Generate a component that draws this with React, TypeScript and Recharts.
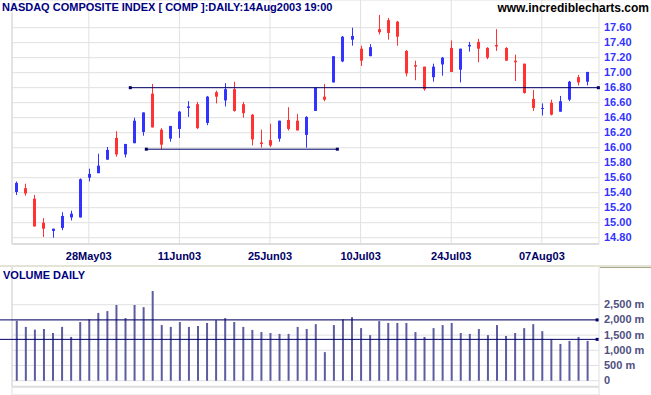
import {
  ComposedChart,
  Bar,
  XAxis,
  YAxis,
  CartesianGrid,
  ReferenceLine,
  ReferenceDot,
} from "recharts";

// NASDAQ Composite daily, 15 May 2003 - 14 Aug 2003 (index / 100)
const tradingDays = [
  "15May", "16May", "19May", "20May", "21May", "22May", "23May", "27May", "28May", "29May", "30May",
  "02Jun", "03Jun", "04Jun", "05Jun", "06Jun", "09Jun", "10Jun", "11Jun", "12Jun", "13Jun",
  "16Jun", "17Jun", "18Jun", "19Jun", "20Jun", "23Jun", "24Jun", "25Jun", "26Jun", "27Jun", "30Jun",
  "01Jul", "02Jul", "03Jul", "07Jul", "08Jul", "09Jul", "10Jul", "11Jul", "14Jul", "15Jul", "16Jul",
  "17Jul", "18Jul", "21Jul", "22Jul", "23Jul", "24Jul", "25Jul", "28Jul", "29Jul", "30Jul", "31Jul",
  "01Aug", "04Aug", "05Aug", "06Aug", "07Aug", "08Aug", "11Aug", "12Aug", "13Aug", "14Aug",
];

const opens = [
  15.41, 15.46, 15.32, 15.0, 14.89, 14.93, 15.07, 15.07, 15.6, 15.66, 15.84, 16.13, 15.91, 16.06, 16.21, 16.72,
  16.24, 16.12, 16.25, 16.53, 16.58, 16.33, 16.74, 16.63, 16.78, 16.58, 16.44, 16.07, 16.1, 16.12, 16.37, 16.36,
  16.17, 16.49, 16.68, 16.87, 17.15, 17.44, 17.32, 17.22, 17.58, 17.7, 17.68, 17.29, 17.1, 17.08, 16.94, 17.11,
  17.33, 17.04, 17.35, 17.41, 17.33, 17.37, 17.33, 17.16, 17.12, 16.65, 16.52, 16.6, 16.48, 16.64, 16.94, 16.88,
];
const highs = [
  15.55, 15.52, 15.37, 15.06, 14.92, 15.14, 15.16, 15.59, 15.72, 15.92, 16.01, 16.22, 16.05, 16.4, 16.47, 16.85,
  16.26, 16.29, 16.49, 16.62, 16.61, 16.69, 16.76, 16.86, 16.88, 16.61, 16.45, 16.24, 16.32, 16.36, 16.54, 16.45,
  16.42, 16.8, 16.85, 17.22, 17.49, 17.6, 17.36, 17.38, 17.77, 17.73, 17.69, 17.3, 17.16, 17.08, 17.12, 17.21,
  17.43, 17.32, 17.41, 17.45, 17.34, 17.58, 17.34, 17.24, 17.12, 16.77, 16.59, 16.64, 16.69, 16.89, 16.97, 17.01,
];
const lows = [
  15.37, 15.36, 14.95, 14.81, 14.8, 14.9, 15.03, 15.07, 15.55, 15.66, 15.84, 15.88, 15.87, 16.06, 16.16, 16.27,
  15.98, 16.08, 16.13, 16.41, 16.25, 16.3, 16.59, 16.55, 16.48, 16.4, 16.03, 16.0, 16.01, 16.08, 16.23, 16.23,
  16.0, 16.49, 16.62, 16.87, 17.14, 17.36, 17.09, 17.22, 17.51, 17.44, 17.36, 16.95, 16.9, 16.76, 16.88, 16.96,
  17.01, 16.87, 17.28, 17.14, 17.18, 17.29, 17.16, 16.89, 16.72, 16.49, 16.43, 16.43, 16.48, 16.62, 16.83, 16.83,
];
const closes = [
  15.53, 15.39, 14.95, 14.92, 14.92, 15.09, 15.12, 15.58, 15.65, 15.76, 15.97, 15.91, 16.05, 16.36, 16.47, 16.27,
  16.04, 16.29, 16.48, 16.55, 16.26, 16.68, 16.68, 16.78, 16.49, 16.46, 16.11, 16.05, 16.03, 16.36, 16.25, 16.23,
  16.41, 16.8, 16.64, 17.22, 17.48, 17.49, 17.16, 17.34, 17.54, 17.53, 17.48, 16.99, 17.08, 16.78, 17.08, 17.2,
  17.01, 17.32, 17.37, 17.32, 17.2, 17.35, 17.16, 17.14, 16.73, 16.53, 16.53, 16.44, 16.62, 16.88, 16.87, 17.01,
];
// volume in millions
const volumes = [
  1970, 1770, 1680, 1700, 1570, 1770, 1440, 1930, 2020, 2230, 2290, 2490, 2060, 2490, 2420, 2950,
  1830, 1770, 1930, 1770, 1800, 1900, 1990, 2060, 1930, 1770, 1670, 1600, 1570, 1540, 1540, 1770,
  1700, 1860, 940, 1830, 2020, 2090, 1730, 1500, 1960, 1900, 1900, 1900, 1600, 1440, 1730, 1830,
  1900, 1570, 1540, 1700, 1500, 1830, 1470, 1570, 1730, 1860, 1630, 1370, 1210, 1310, 1440, 1310,
];

const dateTicks = [8, 18, 28, 38, 48, 58];
const dateLabels = ["28May03", "11Jun03", "25Jun03", "10Jul03", "24Jul03", "07Aug03"];
const priceTicks = [14.8, 15.0, 15.2, 15.4, 15.6, 15.8, 16.0, 16.2, 16.4, 16.6, 16.8, 17.0, 17.2, 17.4, 17.6];
const volumeTicks = [0, 500, 1000, 1500, 2000, 2500];

// hand drawn lines: [x1, x2, value]
const resistance = [12.58, 64.24, 16.8];
const support = [14.35, 35.43, 15.98];
const volHigh = [-1.8, 64.1, 2000];
const volLow = [-1.8, 64.1, 1360];

const data = opens.map((o, i) => ({
  i,
  day: tradingDays[i],
  o,
  h: highs[i],
  l: lows[i],
  c: closes[i],
  range: [lows[i], highs[i]],
  v: volumes[i],
}));

const W = 651;
const X_DOMAIN: [number, number] = [-0.475, 64.31];
const PRICE_DOMAIN: [number, number] = [14.716, 17.969];
const VOL_DOMAIN: [number, number] = [-470, 3773];
const UP = "#3333ff";
const DOWN = "#ff3333";
const NAVY = "#000066";
const GRID = "#e0e0e0";
const FONT = "'Liberation Sans', Arial, sans-serif";

function Candle(props: any) {
  const { x, y, width, height, payload } = props;
  const { o, h, l, c } = payload;
  const top = Math.min(y, y + height);
  const span = Math.abs(height);
  const k = span / (h - l);
  const py = (v: number) => top + (h - v) * k;
  const color = c >= o ? UP : DOWN;
  const cx = Math.round(x + width / 2) + 0.5;
  const bTop = py(Math.max(o, c));
  const bBot = py(Math.min(o, c));
  return (
    <g>
      <line x1={cx} x2={cx} y1={top} y2={top + span} stroke={color} strokeWidth={1} />
      <rect x={cx - 1.5} y={bTop} width={3} height={Math.max(1, bBot - bTop)} fill={color} />
    </g>
  );
}

const square = (p: any) => <rect x={p.cx - 1.5} y={p.cy - 1.5} width={3} height={3} fill={NAVY} />;

function PriceTick(props: any) {
  const { x, y, payload } = props;
  return (
    <text x={x} y={y + 3.5} fill={UP} fontSize={11} fontWeight="bold" fontFamily={FONT} textAnchor="start">
      {payload.value.toFixed(2)}
    </text>
  );
}

function VolumeTick(props: any) {
  const { x, y, payload } = props;
  const v = payload.value;
  return (
    <text x={x} y={y + 3.5} fill="#505080" fontSize={11} fontWeight="bold" fontFamily={FONT} textAnchor="start">
      {v === 0 ? "0" : `${v.toLocaleString("en-US")} m`}
    </text>
  );
}

function DateTick(props: any) {
  const { x, y, payload } = props;
  return (
    <text x={x} y={y} fill={NAVY} fontSize={11} fontWeight="bold" fontFamily={FONT} textAnchor="middle">
      {dateLabels[dateTicks.indexOf(payload.value)]}
    </text>
  );
}

export default function App() {
  return (
    <div style={{ position: "absolute", left: 0, top: 0, width: W, height: 395, background: "#fff" }}>
      <div style={{ position: "absolute", left: 0, top: 0 }}>
        <ComposedChart width={W} height={266} data={data} margin={{ top: 0, right: 0, bottom: 0, left: 12 }}>
          <CartesianGrid stroke={GRID} />
          <XAxis
            type="number"
            dataKey="i"
            domain={X_DOMAIN}
            allowDataOverflow
            ticks={dateTicks}
            interval={0}
            height={22}
            tickSize={0}
            tickMargin={16}
            tickLine={false}
            axisLine={{ stroke: "#dddddd", strokeWidth: 2 }}
            tick={<DateTick />}
          />
          <YAxis
            orientation="right"
            domain={PRICE_DOMAIN}
            allowDataOverflow
            ticks={priceTicks}
            interval={0}
            width={52}
            tickSize={0}
            tickMargin={5}
            tickLine={false}
            axisLine={false}
            tick={<PriceTick />}
          />
          <ReferenceLine
            segment={[{ x: X_DOMAIN[0], y: PRICE_DOMAIN[0] }, { x: X_DOMAIN[0], y: 17.8 }]}
            stroke="#d8d8d8"
            ifOverflow="visible"
          />
          <Bar dataKey="range" barSize={3} shape={<Candle />} isAnimationActive={false} />
          <ReferenceLine
            segment={[{ x: resistance[0], y: resistance[2] }, { x: resistance[1], y: resistance[2] }]}
            stroke={NAVY}
            ifOverflow="visible"
          />
          <ReferenceLine
            segment={[{ x: support[0], y: support[2] }, { x: support[1], y: support[2] }]}
            stroke={NAVY}
            ifOverflow="visible"
          />
          <ReferenceDot x={resistance[0]} y={resistance[2]} shape={square} ifOverflow="visible" />
          <ReferenceDot x={resistance[1]} y={resistance[2]} shape={square} ifOverflow="visible" />
          <ReferenceDot x={support[0]} y={support[2]} shape={square} ifOverflow="visible" />
          <ReferenceDot x={support[1]} y={support[2]} shape={square} ifOverflow="visible" />
        </ComposedChart>
      </div>

      <div style={{ position: "absolute", left: 0, top: 266 }}>
        <ComposedChart width={W} height={129} data={data} margin={{ top: 0, right: 0, bottom: 0, left: 12 }}>
          <CartesianGrid stroke={GRID} />
          <XAxis
            type="number"
            dataKey="i"
            domain={X_DOMAIN}
            allowDataOverflow
            ticks={[...dateTicks, X_DOMAIN[1]]}
            interval={0}
            height={0}
            tick={false}
            tickLine={false}
            axisLine={false}
          />
          <YAxis
            orientation="right"
            domain={VOL_DOMAIN}
            allowDataOverflow
            ticks={volumeTicks}
            interval={0}
            width={52}
            tickSize={0}
            tickMargin={5}
            tickLine={false}
            axisLine={false}
            tick={<VolumeTick />}
          />
          <ReferenceLine
            segment={[{ x: X_DOMAIN[0], y: -197 }, { x: X_DOMAIN[0], y: VOL_DOMAIN[1] }]}
            stroke="#d8d8d8"
            ifOverflow="visible"
          />
          <ReferenceLine
            segment={[{ x: X_DOMAIN[0], y: -197 }, { x: X_DOMAIN[1], y: -197 }]}
            stroke="#dddddd"
            strokeWidth={2}
            ifOverflow="visible"
          />
          <Bar dataKey="v" barSize={2} fill="#5c5ca0" isAnimationActive={false} />
          <ReferenceLine
            segment={[{ x: volHigh[0], y: volHigh[2] }, { x: volHigh[1], y: volHigh[2] }]}
            stroke={NAVY}
            ifOverflow="visible"
          />
          <ReferenceLine
            segment={[{ x: volLow[0], y: volLow[2] }, { x: volLow[1], y: volLow[2] }]}
            stroke={NAVY}
            ifOverflow="visible"
          />
          <ReferenceDot x={volHigh[1]} y={volHigh[2]} shape={square} ifOverflow="visible" />
          <ReferenceDot x={volLow[1]} y={volLow[2]} shape={square} ifOverflow="visible" />
        </ComposedChart>
      </div>

      <div style={{ position: "absolute", left: 0, top: 265, width: W, height: 2, background: "#e4e4d6" }} />
      <div style={{ position: "absolute", left: 600, top: 267, width: 51, height: 1, background: "#a8a888" }} />

      <svg width={W} height={395} style={{ position: "absolute", left: 0, top: 0, pointerEvents: "none" }}>
        <text x={2} y={11} fill="#000080" fontSize={11} fontWeight="bold" fontFamily={FONT}>
          NASDAQ COMPOSITE INDEX [ COMP ]:DAILY:14Aug2003 19:00
        </text>
        <text x={649} y={12} fill="#000" fontSize={12} fontWeight="bold" fontFamily={FONT} textAnchor="end">
          www.incrediblecharts.com
        </text>
        <text x={3} y={279} fill="#000080" fontSize={11} fontWeight="bold" fontFamily={FONT}>
          VOLUME DAILY
        </text>
      </svg>
    </div>
  );
}
